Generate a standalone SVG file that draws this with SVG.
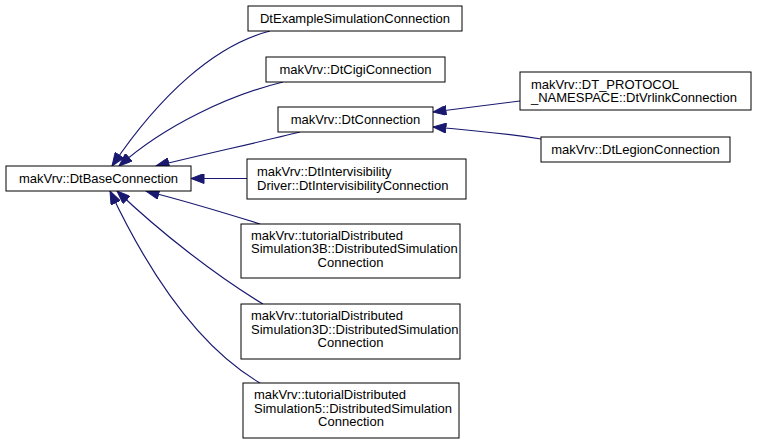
<svg xmlns="http://www.w3.org/2000/svg" width="760" height="445" viewBox="0 0 760 445">
<style>
.node rect{fill:#fff;stroke:#000;stroke-width:1}
.node text{font-family:"Liberation Sans",Arial,sans-serif;font-size:13px;fill:#000}
.c{text-anchor:middle}
.edges path{fill:none;stroke:#191970;stroke-width:1.2;marker-end:url(#ah)}
</style>
<defs>
<marker id="ah" markerUnits="userSpaceOnUse" markerWidth="14" markerHeight="10" viewBox="0 0 13 10" refX="13" refY="5" orient="auto">
<path d="M0,0 L13,5 L0,10 z" fill="#191970" stroke="#191970" stroke-width="1"/>
</marker>
</defs>
<rect width="760" height="445" fill="#fff"/>
<g id="edges" class="edges">
<path d="M270,31 C215,45 160,95 112,166"/>
<path d="M283,82 C230,95 165,125 119,166"/>
<path d="M300,132 C260,142 205,154 156,166"/>
<path d="M247,178.5 L191,178.5"/>
<path d="M260,224 C225,213 185,201 146,191"/>
<path d="M263,304 C215,275 160,232 117,191"/>
<path d="M260,383 C195,345 145,265 110,191"/>
<path d="M520,101 C495,104 465,108 433,112"/>
<path d="M541,139 C515,135 470,130 433,127"/>
</g>
<g id="base" class="node"><rect x="6" y="166" width="185" height="25"/><text class="c" x="98.5" y="182.5">makVrv::DtBaseConnection</text></g>
<g id="example" class="node"><rect x="248" y="6" width="214" height="25"/><text class="c" x="355" y="23">DtExampleSimulationConnection</text></g>
<g id="cigi" class="node"><rect x="266" y="57" width="179" height="25"/><text class="c" x="355.5" y="74">makVrv::DtCigiConnection</text></g>
<g id="dtconnection" class="node"><rect x="278" y="107" width="155" height="25"/><text class="c" x="355.5" y="124">makVrv::DtConnection</text></g>
<g id="vrlink" class="node"><rect x="520" y="72" width="231" height="38"/><text x="531" y="88.5">makVrv::DT_PROTOCOL</text><text x="531" y="102">_NAMESPACE::DtVrlinkConnection</text></g>
<g id="legion" class="node"><rect x="541" y="137" width="189" height="25"/><text class="c" x="635.5" y="154">makVrv::DtLegionConnection</text></g>
<g id="intervis" class="node"><rect x="247" y="159" width="219" height="40"/><text x="257" y="176">makVrv::DtIntervisibility</text><text x="257" y="189.5">Driver::DtIntervisibilityConnection</text></g>
<g id="sim3b" class="node"><rect x="241" y="224" width="219" height="54"/><text x="251" y="239.5">makVrv::tutorialDistributed</text><text x="251" y="253">Simulation3B::DistributedSimulation</text><text class="c" x="350.5" y="266.5">Connection</text></g>
<g id="sim3d" class="node"><rect x="241" y="304" width="219" height="55"/><text x="251" y="320">makVrv::tutorialDistributed</text><text x="251" y="333.5">Simulation3D::DistributedSimulation</text><text class="c" x="350.5" y="347">Connection</text></g>
<g id="sim5" class="node"><rect x="243" y="383" width="216" height="55"/><text x="254" y="399">makVrv::tutorialDistributed</text><text x="254" y="412.5">Simulation5::DistributedSimulation</text><text class="c" x="351" y="426">Connection</text></g>
</svg>
